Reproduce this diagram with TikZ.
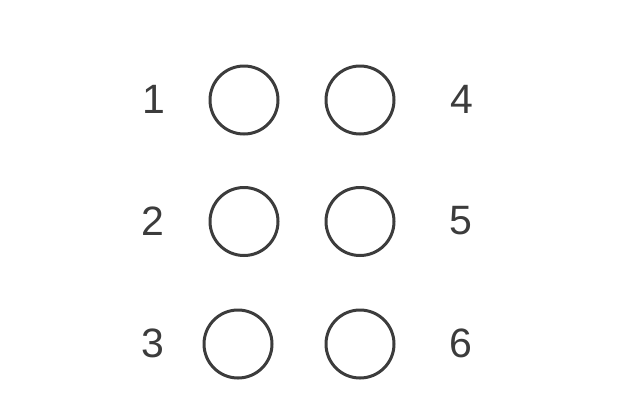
\documentclass[tikz,border=0pt]{standalone}
\usepackage{fontspec}
\setmainfont{Liberation Sans}
\definecolor{dotgray}{HTML}{3C3C3C}
\tikzset{
	dot/.style={circle, draw=dotgray, line width=3pt, minimum size=68pt, inner sep=0pt},
	num/.style={text=dotgray, font=\fontsize{41}{41}\selectfont, inner sep=0pt}
}
\begin{document}
\begin{tikzpicture}[x=1pt, y=-1pt]
		\useasboundingbox	(0, 0) rectangle (636, 416);

		\node [dot]	(d1) at (244, 100) {};
		\node [dot]	(d2) at (244, 221.5) {};
		\node [dot]	(d3) at (238, 344) {};
		\node [dot]	(d4) at (360, 100) {};
		\node [dot]	(d5) at (360, 221.5) {};
		\node [dot]	(d6) at (360, 344) {};

		\node [num]	(n1) at (154, 99) {1};
		\node [num]	(n2) at (153, 221) {2};
		\node [num]	(n3) at (153, 343) {3};
		\node [num]	(n4) at (462, 99) {4};
		\node [num]	(n5) at (461, 221) {5};
		\node [num]	(n6) at (461, 343) {6};
	\end{tikzpicture}
\end{document}
